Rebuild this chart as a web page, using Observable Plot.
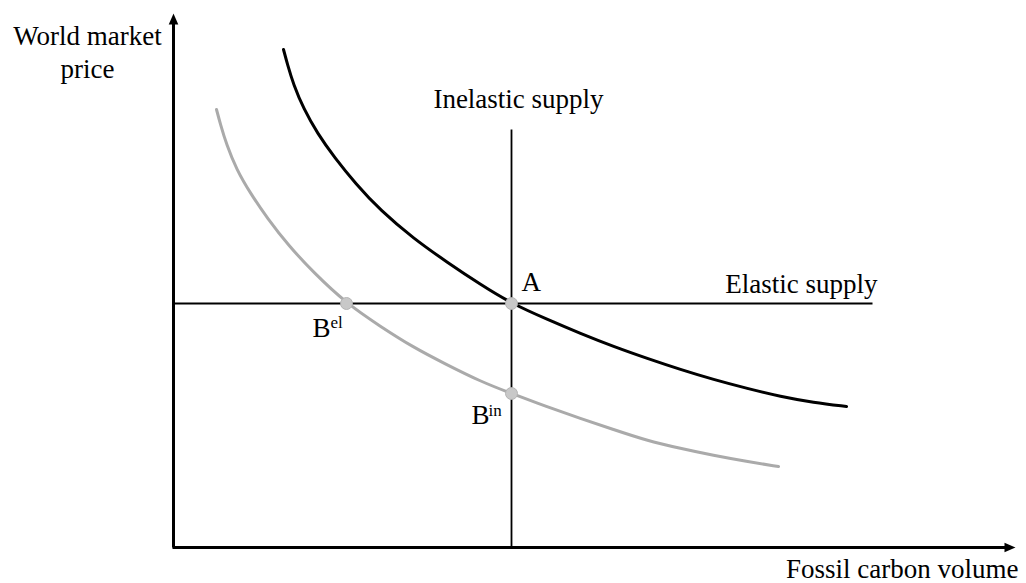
<!DOCTYPE html>
<html>
<head>
<meta charset="utf-8">
<script src="https://cdn.jsdelivr.net/npm/d3@7"></script>
<script src="https://cdn.jsdelivr.net/npm/@observablehq/plot@0.6"></script>
<style>
  html, body { margin: 0; padding: 0; background: #fff; }
  #chart svg { display: block; }
</style>
</head>
<body>
<div id="chart"></div>
<script>
// ---- data (abstract units: volume on x, price on y) ----
const demandHighQ = [110, 114, 120, 130, 144, 161, 182, 207, 240, 274, 307, 338, 374, 407, 440, 474, 507, 540, 574, 607, 640, 673];
const demandHighP = [498, 483, 463, 439, 414, 390, 364, 337, 309, 285, 263, 244, 228, 214, 201, 189, 178, 168, 159, 151, 145, 141];
const demandLowQ  = [43, 47, 53, 63, 77, 94, 115, 140, 173, 207, 240, 271, 307, 338, 373, 407, 440, 473, 507, 540, 573, 605];
const demandLowP  = [438, 423, 403, 378, 354, 329, 302, 275, 244, 221, 200, 184, 166, 154, 141, 129, 118, 107, 99, 92, 86, 81];

const inelasticQ = 338;      // vertical supply line
const inelasticTop = 418;
const elasticP = 244;        // horizontal supply line
const elasticRight = 699;

const xMax = 842;            // end of volume axis
const yMax = 534;            // end of price axis

const pointQ = [338, 173, 338];   // A, B^el, B^in
const pointP = [244, 244, 154];

const axisTitleX = "Fossil carbon volume";
const axisTitleY = "World market\nprice";
const inelasticLabel = "Inelastic supply";
const elasticLabel = "Elastic supply";
const labelA = "A";
const labelB = "B";
const supEl = "el";
const supIn = "in";

// ---- build tables ----
const high = demandHighQ.map((q, i) => ({q, p: demandHighP[i]}));
const low  = demandLowQ.map((q, i) => ({q, p: demandLowP[i]}));
const pts  = pointQ.map((q, i) => ({q, p: pointP[i]}));
const [ptA, ptBel, ptBin] = pts;

const font = "'Liberation Serif', 'Times New Roman', serif";
const fs = 27;
const fsSup = 17;

// filled narrow arrowhead with its tip at the origin, pointing up
const arrowHead = {
  draw(ctx) {
    ctx.moveTo(0, 0);
    ctx.lineTo(4.8, 11);
    ctx.lineTo(-4.8, 11);
    ctx.closePath();
  }
};

const txt = (datum, opts) => Plot.text([datum], {
  text: d => d.text, x: "q", y: "p", lineAnchor: "bottom", fill: "#000", ...opts
});

const chart = Plot.plot({
  width: 1026,
  height: 583,
  marginLeft: 173,
  marginRight: 11,
  marginTop: 13,
  marginBottom: 36,
  style: {fontFamily: font, background: "#fff", overflow: "visible"},
  x: {domain: [0, xMax], axis: null},
  y: {domain: [0, yMax], axis: null},
  marks: [
    // axes
    Plot.link([0], {x1: 0, y1: 0, x2: 0, y2: yMax - 6, stroke: "#000", strokeWidth: 3, strokeLinecap: "butt"}),
    Plot.link([0], {x1: -1, y1: 0, x2: xMax - 6, y2: 0, stroke: "#000", strokeWidth: 3, strokeLinecap: "butt"}),
    Plot.dot([0], {x: 0, y: yMax, symbol: arrowHead, fill: "#000", stroke: "none", r: 5}),
    Plot.dot([0], {x: xMax, y: 0, symbol: arrowHead, fill: "#000", stroke: "none", r: 5, rotate: 90}),

    // supply lines
    Plot.link([0], {x1: inelasticQ, y1: 0, x2: inelasticQ, y2: inelasticTop, stroke: "#000", strokeWidth: 1.8}),
    Plot.link([0], {x1: 0, y1: elasticP, x2: elasticRight, y2: elasticP, stroke: "#000", strokeWidth: 1.8}),

    // demand curves
    Plot.line(low,  {x: "q", y: "p", stroke: "#aaaaaa", strokeWidth: 3, curve: "basis"}),
    Plot.line(high, {x: "q", y: "p", stroke: "#000", strokeWidth: 3, curve: "basis"}),

    // intersection points
    Plot.dot(pts, {x: "q", y: "p", r: 6, fill: "#c8c8c8", stroke: "#b4b4b4", strokeWidth: 1}),

    // labels
    txt({q: inelasticQ, p: inelasticTop, text: inelasticLabel}, {dx: 7, dy: -22, textAnchor: "middle", fontSize: fs}),
    txt({q: elasticRight, p: elasticP, text: elasticLabel}, {dx: 5, dy: -11, textAnchor: "end", fontSize: fs}),
    txt({...ptA, text: labelA}, {dx: 10, dy: -13, textAnchor: "start", fontSize: fs}),
    txt({...ptBel, text: labelB}, {dx: -34, dy: 33, textAnchor: "start", fontSize: fs}),
    txt({...ptBel, text: supEl}, {dx: -16, dy: 24, textAnchor: "start", fontSize: fsSup}),
    txt({...ptBin, text: labelB}, {dx: -40, dy: 30, textAnchor: "start", fontSize: fs}),
    txt({...ptBin, text: supIn}, {dx: -23, dy: 22, textAnchor: "start", fontSize: fsSup}),

    // axis titles
    Plot.text([axisTitleY], {frameAnchor: "top-left", text: d => d, dx: -86, dy: 64,
      lineAnchor: "bottom", textAnchor: "middle", fontSize: fs, lineHeight: 1.19, fill: "#000"}),
    Plot.text([axisTitleX], {frameAnchor: "bottom-right", text: d => d, dx: 3, dy: 30,
      lineAnchor: "bottom", textAnchor: "end", fontSize: fs, fill: "#000"})
  ]
});

document.getElementById("chart").appendChild(chart);
</script>
</body>
</html>
